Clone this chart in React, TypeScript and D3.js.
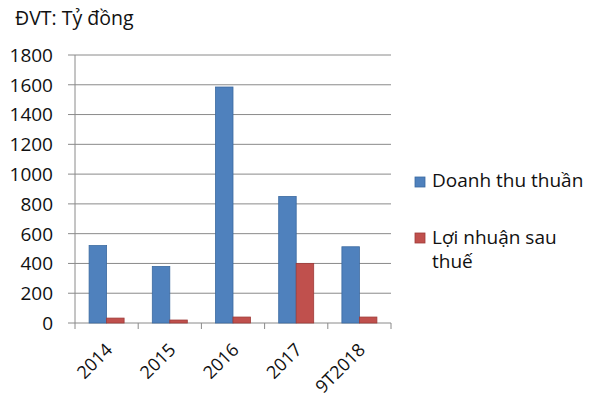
import React from "react";
import * as d3 from "d3";

const categories = ["2014", "2015", "2016", "2017", "9T2018"];
const revenue = [520, 380, 1585, 850, 512];
const profit = [33, 20, 40, 400, 40];
const yTicks = [0, 200, 400, 600, 800, 1000, 1200, 1400, 1600, 1800];
const seriesNames = ["Doanh thu thuần", "Lợi nhuận sau thuế"];
const colors = ["#4F81BD", "#C0504D"];
const strokes = ["#3b6aa0", "#9e3b38"];

export default function App() {
  const W = 600, H = 400;
  const left = 75, right = 391, top = 55, bottom = 323;
  const x = d3.scaleBand().domain(categories).range([left, right]).paddingInner(0).paddingOuter(0);
  const y = d3.scaleLinear().domain([0, 1800]).range([bottom, top]);
  const barW = 17.5;
  const font = "'Open Sans', sans-serif";
  const series = [revenue, profit];
  const fs = 19;
  return (
    <svg width={W} height={H} style={{ position: "absolute", left: 0, top: 0, background: "#fff" }} fontFamily={font}>
      <rect x={0} y={0} width={W} height={H} fill="#fff" />
      <text x={15} y={25} fontSize={19.5} fill="#111">ĐVT: Tỷ đồng</text>
      {yTicks.map((t) => (
        <g key={t}>
          {t > 0 && <line x1={left} x2={right} y1={y(t)} y2={y(t)} stroke="#8a8a8a" strokeWidth={1} />}
          <line x1={left - 7} x2={left} y1={y(t)} y2={y(t)} stroke="#8a8a8a" strokeWidth={1} />
          <text x={53} y={y(t)} dy="0.36em" textAnchor="end" fontSize={fs} fill="#111">{t}</text>
        </g>
      ))}
      <line x1={left} x2={left} y1={top} y2={bottom} stroke="#8a8a8a" />
      <line x1={left} x2={right} y1={bottom} y2={bottom} stroke="#8a8a8a" />
      {categories.map((c) => (
        <line key={"xt" + c} x1={x(c)!} x2={x(c)!} y1={bottom} y2={bottom + 6} stroke="#8a8a8a" />
      ))}
      <line x1={right} x2={right} y1={bottom} y2={bottom + 6} stroke="#8a8a8a" />
      {series.map((vals, s) => (
        <g key={"s" + s}>
          {vals.map((v, i) => {
            const cx = x(categories[i])! + x.bandwidth() / 2;
            const bx = cx - barW + s * barW;
            return (
              <rect key={i} x={bx} y={y(v)} width={barW} height={bottom - y(v)} fill={colors[s]} stroke={strokes[s]} strokeWidth={0.8} />
            );
          })}
        </g>
      ))}
      {categories.map((c) => {
        const cx = x(c)! + x.bandwidth() / 2;
        return (
          <text key={"xl" + c} transform={`translate(${cx - 2},${342}) rotate(-45)`} textAnchor="end" dy="0.7em" fontSize={18} fill="#111">{c}</text>
        );
      })}
      <rect x={415} y={177} width={10} height={10} fill={colors[0]} stroke={strokes[0]} strokeWidth={0.8} />
      <text x={432} y={187} fontSize={fs} fill="#111">{seriesNames[0]}</text>
      <rect x={415} y={233} width={10} height={10} fill={colors[1]} stroke={strokes[1]} strokeWidth={0.8} />
      <text x={432} y={244} fontSize={fs} fill="#111">Lợi nhuận sau</text>
      <text x={432} y={268} fontSize={fs} fill="#111">thuế</text>
    </svg>
  );
}
